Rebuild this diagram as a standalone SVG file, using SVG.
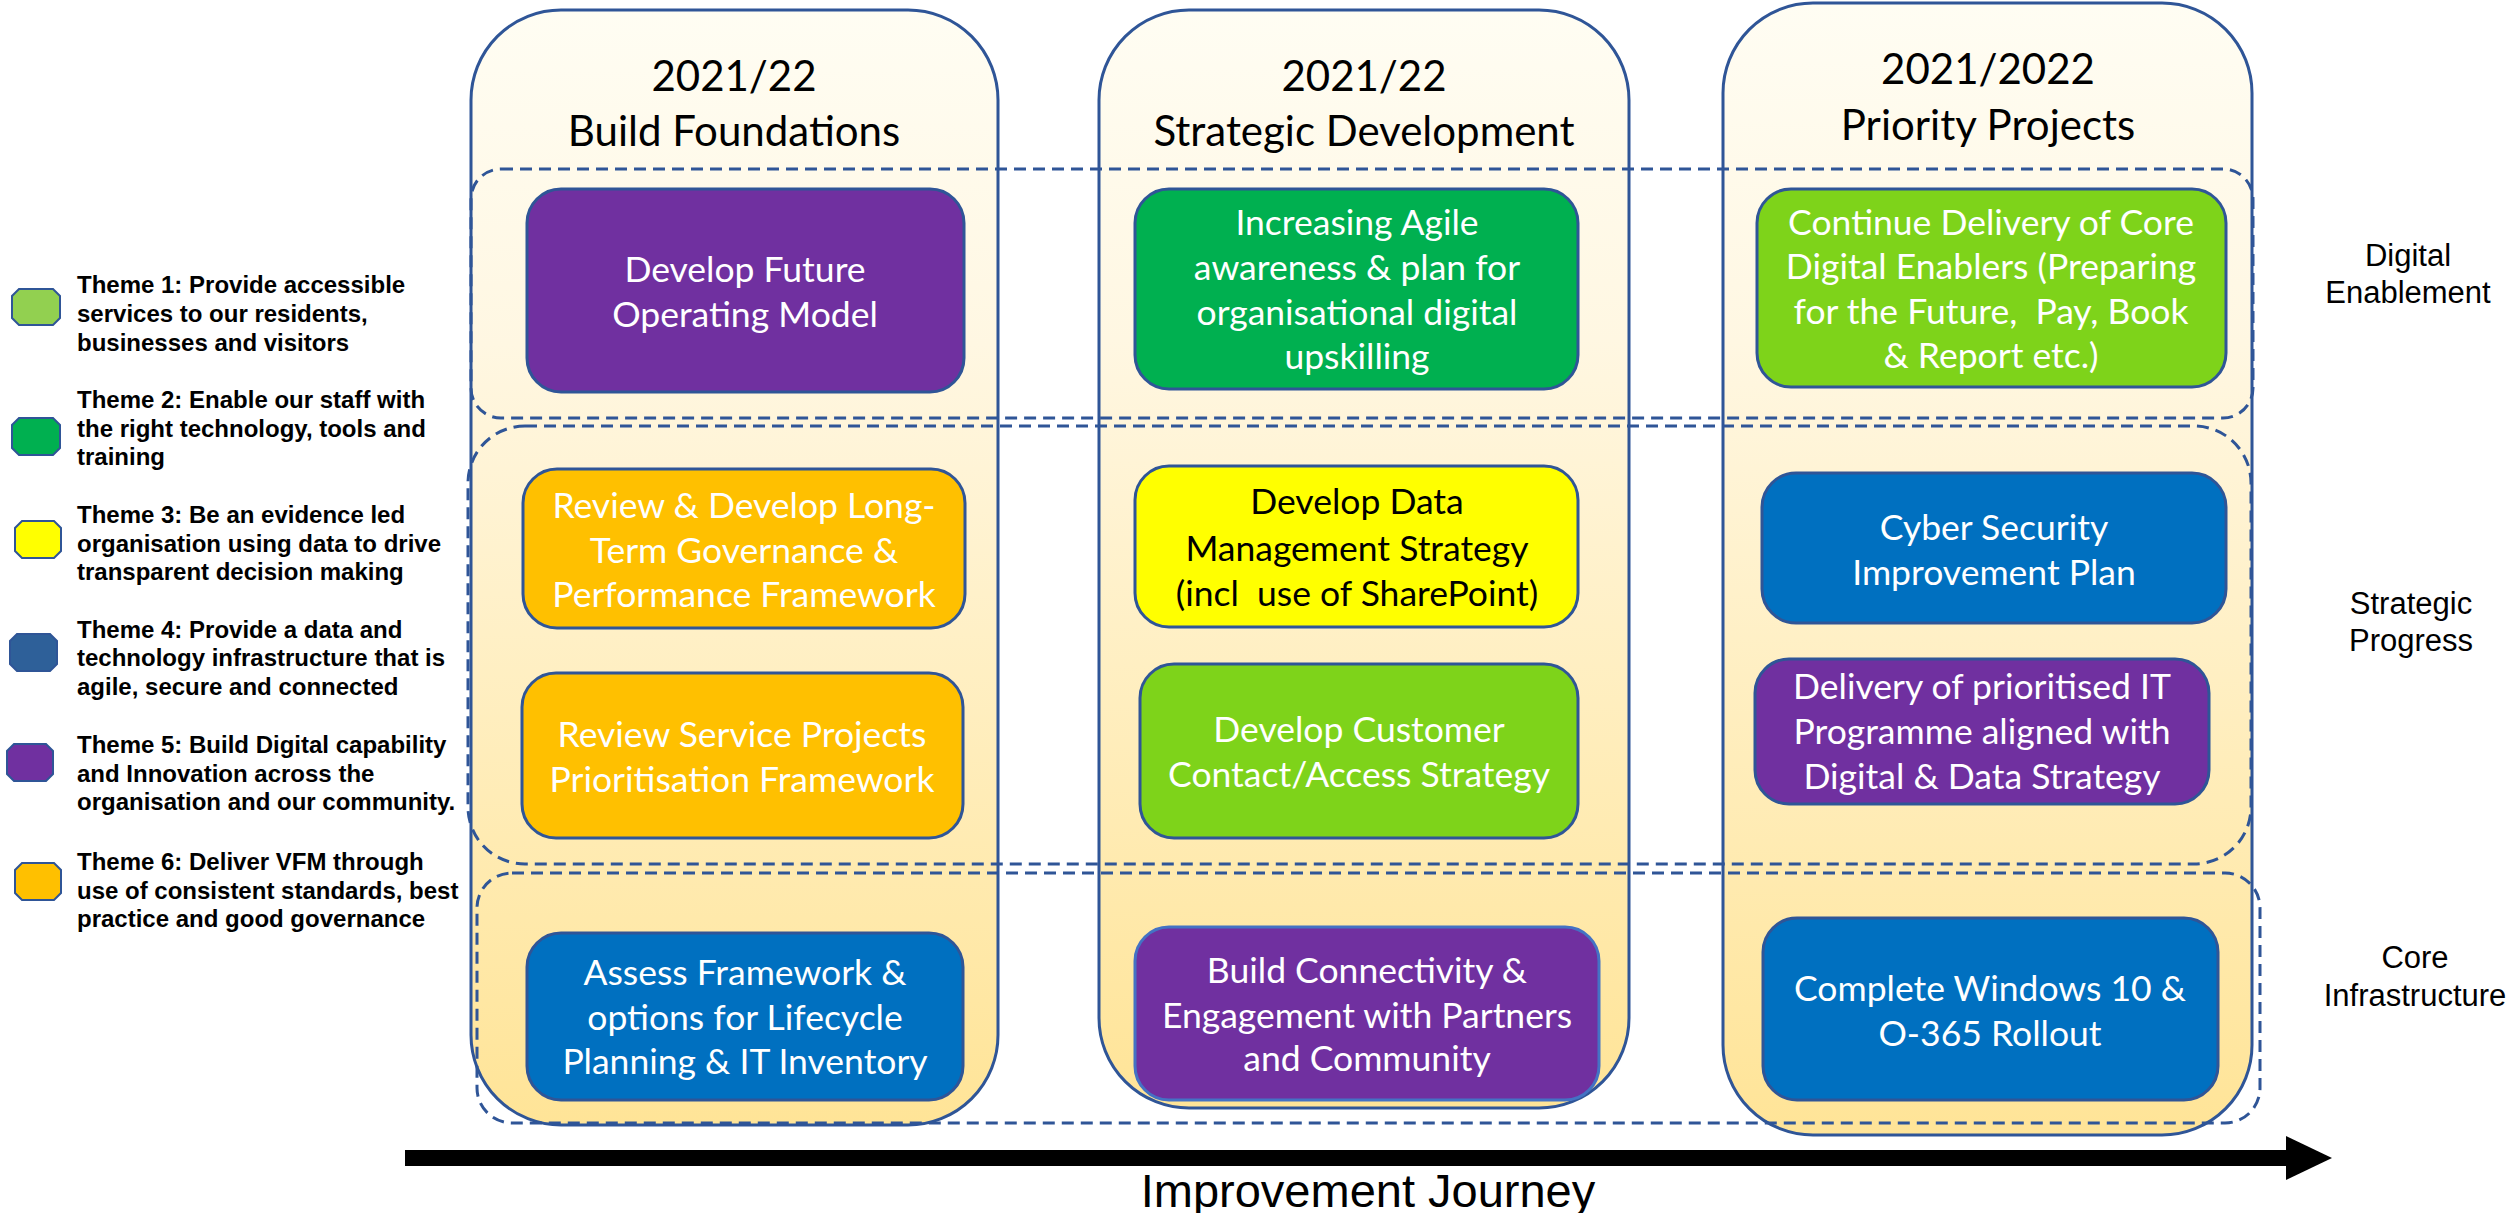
<svg xmlns="http://www.w3.org/2000/svg" width="2517" height="1213" viewBox="0 0 2517 1213">
<defs>
<linearGradient id="colGrad" x1="0" y1="0" x2="0" y2="1">
<stop offset="0" stop-color="#FFFDF3"/>
<stop offset="0.3" stop-color="#FFF7E2"/>
<stop offset="1" stop-color="#FFE497"/>
</linearGradient>
</defs>
<style>
.col{fill:url(#colGrad);stroke:#2F5597;stroke-width:3}
.band{fill:none;stroke:#2F5597;stroke-width:3;stroke-dasharray:12 7}
.box{stroke:#2F5597;stroke-width:3}
.ntext{font-family:Lato,"Liberation Sans",sans-serif;font-size:35.5px;fill:#FFFFFF;text-anchor:middle;white-space:pre}
.dark{fill:#000000}
.title{font-family:Lato,"Liberation Sans",sans-serif;font-size:42px;fill:#000000;text-anchor:middle}
.leg{font-family:"Liberation Sans",Arial,sans-serif;font-size:24px;font-weight:bold;fill:#000000}
.side{font-family:"Liberation Sans",Arial,sans-serif;font-size:31px;fill:#000000;text-anchor:middle}
.sw{stroke:#2F5597;stroke-width:2}
.purple{fill:#7030A0}.green{fill:#00B050}.lgreen{fill:#7ED31A}.yellow{fill:#FFFF00}.orange{fill:#FFC000}.blue{fill:#0070C0}
</style>

<!-- columns -->
<g id="col-build-foundations">
<rect class="col" x="471" y="10" width="527" height="1115" rx="90" ry="90"/>
<text class="title" x="734" y="91">2021/22</text>
<text class="title" x="734" y="146">Build Foundations</text>
</g>
<g id="col-strategic-development">
<rect class="col" x="1099" y="10" width="530" height="1098" rx="90" ry="90"/>
<text class="title" x="1364" y="91">2021/22</text>
<text class="title" x="1364" y="146">Strategic Development</text>
</g>
<g id="col-priority-projects">
<rect class="col" x="1723" y="3" width="529" height="1132" rx="90" ry="90"/>
<text class="title" x="1988" y="84">2021/2022</text>
<text class="title" x="1988" y="140">Priority Projects</text>
</g>

<!-- bands -->
<g id="band-digital-enablement">
<rect class="band" x="471" y="169" width="1782" height="249" rx="30" ry="30"/>
<text class="side" x="2408" y="266">Digital</text>
<text class="side" x="2408" y="303">Enablement</text>
</g>
<g id="band-strategic-progress">
<rect class="band" x="468" y="426" width="1783" height="438" rx="57" ry="57"/>
<text class="side" x="2411" y="614">Strategic</text>
<text class="side" x="2411" y="651">Progress</text>
</g>
<g id="band-core-infrastructure">
<rect class="band" x="477" y="873" width="1783" height="250" rx="35" ry="35"/>
<text class="side" x="2415" y="968">Core</text>
<text class="side" x="2415" y="1006">Infrastructure</text>
</g>

<!-- nodes column 1 -->
<g id="n-future-operating-model">
<rect class="box purple" x="527" y="189" width="437" height="203" rx="34"/>
<text class="ntext" x="745" y="282">Develop Future</text>
<text class="ntext" x="745" y="327">Operating Model</text>
</g>
<g id="n-governance-framework">
<rect class="box orange" x="523" y="469" width="442" height="159" rx="34"/>
<text class="ntext" x="744" y="518">Review &amp; Develop Long-</text>
<text class="ntext" x="744" y="563">Term Governance &amp;</text>
<text class="ntext" x="744" y="607">Performance Framework</text>
</g>
<g id="n-prioritisation-framework">
<rect class="box orange" x="522" y="673" width="441" height="165" rx="34"/>
<text class="ntext" x="742" y="747">Review Service Projects</text>
<text class="ntext" x="742" y="792">Prioritisation Framework</text>
</g>
<g id="n-lifecycle-planning">
<rect class="box blue" x="527" y="933" width="436" height="167" rx="34"/>
<text class="ntext" x="745" y="985">Assess Framework &amp;</text>
<text class="ntext" x="745" y="1030">options for Lifecycle</text>
<text class="ntext" x="745" y="1074">Planning &amp; IT Inventory</text>
</g>

<!-- nodes column 2 -->
<g id="n-agile-awareness">
<rect class="box green" x="1135" y="189" width="443" height="200" rx="34"/>
<text class="ntext" x="1357" y="235">Increasing Agile</text>
<text class="ntext" x="1357" y="280">awareness &amp; plan for</text>
<text class="ntext" x="1357" y="325">organisational digital</text>
<text class="ntext" x="1357" y="369">upskilling</text>
</g>
<g id="n-data-management">
<rect class="box yellow" x="1135" y="466" width="443" height="161" rx="34"/>
<text class="ntext dark" x="1357" y="514">Develop Data</text>
<text class="ntext dark" x="1357" y="561">Management Strategy</text>
<text class="ntext dark" x="1357" y="606" xml:space="preserve">(incl  use of SharePoint)</text>
</g>
<g id="n-customer-contact">
<rect class="box lgreen" x="1140" y="664" width="438" height="174" rx="34"/>
<text class="ntext" x="1359" y="742">Develop Customer</text>
<text class="ntext" x="1359" y="787">Contact/Access Strategy</text>
</g>
<g id="n-connectivity">
<rect class="box purple" x="1135" y="927" width="464" height="173" rx="34" style="stroke:#4472C4"/>
<text class="ntext" x="1367" y="983">Build Connectivity &amp;</text>
<text class="ntext" x="1367" y="1028">Engagement with Partners</text>
<text class="ntext" x="1367" y="1071">and Community</text>
</g>

<!-- nodes column 3 -->
<g id="n-core-digital-enablers">
<rect class="box lgreen" x="1757" y="189" width="469" height="198" rx="34"/>
<text class="ntext" x="1991" y="235">Continue Delivery of Core</text>
<text class="ntext" x="1991" y="279">Digital Enablers (Preparing</text>
<text class="ntext" x="1991" y="324" xml:space="preserve">for the Future,  Pay, Book</text>
<text class="ntext" x="1991" y="368">&amp; Report etc.)</text>
</g>
<g id="n-cyber-security">
<rect class="box blue" x="1762" y="473" width="464" height="150" rx="34"/>
<text class="ntext" x="1994" y="540">Cyber Security</text>
<text class="ntext" x="1994" y="585">Improvement Plan</text>
</g>
<g id="n-it-programme">
<rect class="box purple" x="1755" y="659" width="454" height="145" rx="34"/>
<text class="ntext" x="1982" y="699">Delivery of prioritised IT</text>
<text class="ntext" x="1982" y="744">Programme aligned with</text>
<text class="ntext" x="1982" y="789">Digital &amp; Data Strategy</text>
</g>
<g id="n-windows-rollout">
<rect class="box blue" x="1763" y="918" width="455" height="182" rx="34"/>
<text class="ntext" x="1990" y="1001">Complete Windows 10 &amp;</text>
<text class="ntext" x="1990" y="1046">O-365 Rollout</text>
</g>

<!-- legend -->
<g id="legend">
<polygon class="sw" style="fill:#92D050" points="19,289 53,289 60,296 60,318 53,325 19,325 12,318 12,296"/>
<text class="leg" x="77" y="293">Theme 1: Provide accessible</text>
<text class="leg" x="77" y="322">services to our residents,</text>
<text class="leg" x="77" y="351">businesses and visitors</text>
<polygon class="sw" style="fill:#00B050" points="19,418 53,418 60,425 60,448 53,455 19,455 12,448 12,425"/>
<text class="leg" x="77" y="408">Theme 2: Enable our staff with</text>
<text class="leg" x="77" y="437">the right technology, tools and</text>
<text class="leg" x="77" y="465">training</text>
<polygon class="sw" style="fill:#FFFF00" points="22,521 54,521 61,528 61,551 54,558 22,558 15,551 15,528"/>
<text class="leg" x="77" y="523">Theme 3: Be an evidence led</text>
<text class="leg" x="77" y="552">organisation using data to drive</text>
<text class="leg" x="77" y="580">transparent decision making</text>
<polygon class="sw" style="fill:#2E6099" points="17,634 50,634 57,641 57,664 50,671 17,671 10,664 10,641"/>
<text class="leg" x="77" y="638">Theme 4: Provide a data and</text>
<text class="leg" x="77" y="666">technology infrastructure that is</text>
<text class="leg" x="77" y="695">agile, secure and connected</text>
<polygon class="sw" style="fill:#7030A0" points="14,744 46,744 53,751 53,774 46,781 14,781 7,774 7,751"/>
<text class="leg" x="77" y="753">Theme 5: Build Digital capability</text>
<text class="leg" x="77" y="782">and Innovation across the</text>
<text class="leg" x="77" y="810">organisation and our community.</text>
<polygon class="sw" style="fill:#FFC000" points="22,863 54,863 61,870 61,893 54,900 22,900 15,893 15,870"/>
<text class="leg" x="77" y="870">Theme 6: Deliver VFM through</text>
<text class="leg" x="77" y="899">use of consistent standards, best</text>
<text class="leg" x="77" y="927">practice and good governance</text>
</g>

<!-- connectors -->
<g id="connectors">
<rect x="405" y="1150" width="1885" height="16" fill="#000000"/>
<polygon points="2286,1136 2332,1158 2286,1180" fill="#000000"/>
</g>
<g id="journey-label">
<text x="1368" y="1207" style="font-family:'Liberation Sans',Arial,sans-serif;font-size:47px;fill:#000000;text-anchor:middle">Improvement Journey</text>
</g>
</svg>
